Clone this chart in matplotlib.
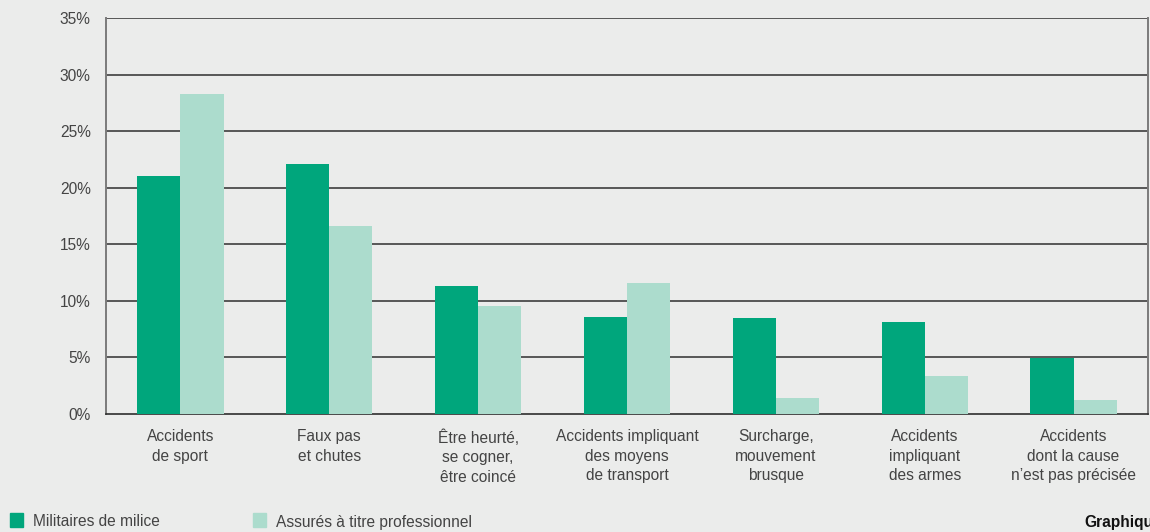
import matplotlib.pyplot as plt
import numpy as np

plt.rcParams['font.family'] = ['Liberation Sans', 'DejaVu Sans']

categories = [
    "Accidents\nde sport",
    "Faux pas\net chutes",
    "Être heurté,\nse cogner,\nêtre coincé",
    "Accidents impliquant\ndes moyens\nde transport",
    "Surcharge,\nmouvement\nbrusque",
    "Accidents\nimpliquant\ndes armes",
    "Accidents\ndont la cause\nn’est pas précisée",
]
militaires = [21.0, 22.1, 11.3, 8.6, 8.5, 8.1, 4.95]
assures = [28.3, 16.6, 9.55, 11.6, 1.4, 3.4, 1.25]
yticks = [0, 5, 10, 15, 20, 25, 30, 35]

bg = '#ebeceb'
dark = '#00a67c'
light = '#acdccd'
txt = '#444444'
fs = 11.2

fig = plt.figure(figsize=(11.5, 5.32), dpi=100, facecolor=bg)
ax = fig.add_axes([106 / 1150, 1 - 414 / 532, 1042 / 1150, 396 / 532])
ax.set_facecolor(bg)

x = np.arange(len(categories))
w = 0.29
ax.bar(x - w / 2, militaires, w, color=dark, zorder=3)
ax.bar(x + w / 2, assures, w, color=light, zorder=3)

ax.set_xlim(-0.5, len(categories) - 0.5)
ax.set_ylim(0, 35)
ax.set_yticks(yticks)
ax.set_yticklabels([f"{v}%" for v in yticks])
for v in yticks[1:]:
    ax.axhline(v, color='#2e2e2e', lw=1.1, zorder=1)

ax.set_xticks(x)
ax.set_xticklabels(categories, linespacing=1.38)
ax.tick_params(length=0, colors=txt, labelsize=fs)
ax.tick_params(axis='x', pad=11)
ax.tick_params(axis='y', pad=11)

for side in ['left', 'right']:
    ax.spines[side].set_color('#7a7a7a')
    ax.spines[side].set_linewidth(1.4)
ax.spines['top'].set_visible(False)
ax.spines['bottom'].set_color('#2e2e2e')
ax.spines['bottom'].set_linewidth(1.2)

# legend along the bottom edge
fig.patches.append(plt.Rectangle((10 / 1150, 5 / 532), 13 / 1150, 14 / 532,
                                 transform=fig.transFigure, color=dark))
fig.text(33 / 1150, 10 / 532, "Militaires de milice", color=txt,
         fontsize=fs, va='center')
fig.patches.append(plt.Rectangle((253 / 1150, 5 / 532), 13 / 1150, 14 / 532,
                                 transform=fig.transFigure, color=light))
fig.text(276 / 1150, 10 / 532, "Assurés à titre professionnel", color=txt,
         fontsize=fs, va='center')
fig.text(1084 / 1150, 10 / 532, "Graphique", color='#111111',
         fontsize=fs, fontweight='bold', va='center')

fig.savefig('out.png', facecolor=bg)
